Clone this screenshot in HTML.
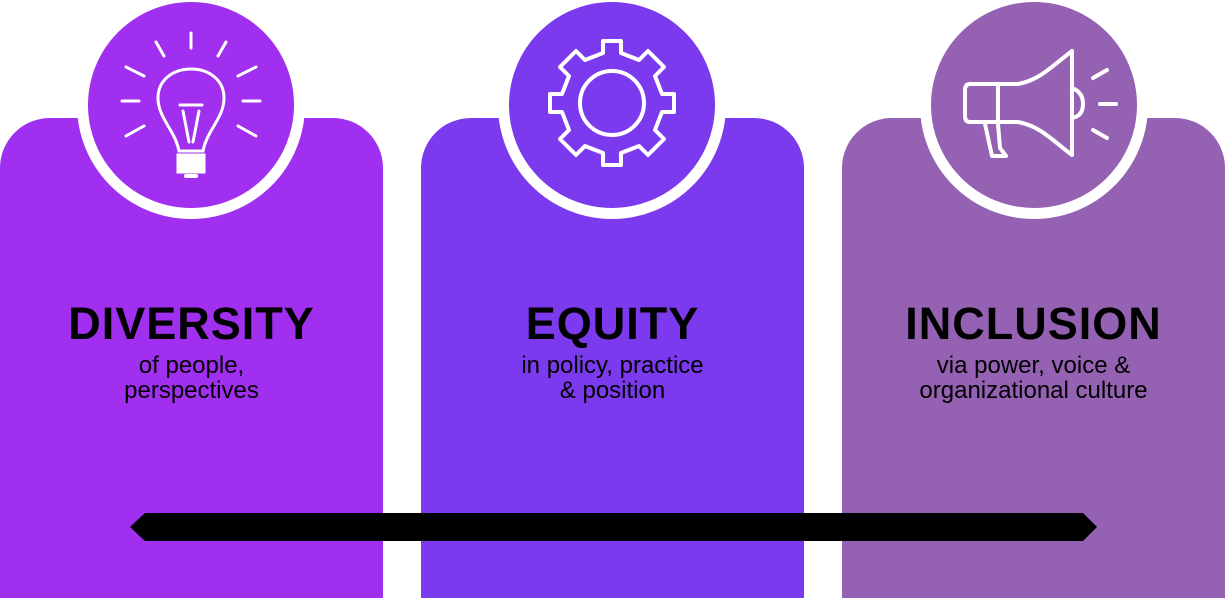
<!DOCTYPE html>
<html><head><style>
body{margin:0;width:1225px;height:598px;background:#fff;position:relative;overflow:hidden;font-family:"Liberation Sans",sans-serif}
.box{position:absolute;top:118px;width:383px;height:480px;border-radius:50px 50px 0 0}
.c{position:absolute;border-radius:50%;border:11px solid #fff;width:206px;height:206px}
.t{position:absolute;width:383px;text-align:center;color:#000}
.h{font-weight:bold;font-size:45px;top:298px;letter-spacing:1px}
.s{font-size:24px;top:353px;line-height:25px}
</style></head><body>
<div class="box" style="left:0;background:#a02ff0"></div>
<div class="box" style="left:421px;background:#7b3aed"></div>
<div class="box" style="left:842px;background:#9461b3"></div>
<div class="c" style="left:77px;top:-9px;background:#a02ff0"></div>
<div class="c" style="left:498px;top:-9px;background:#7b3aed"></div>
<div class="c" style="left:920px;top:-9px;background:#9461b3"></div>
<svg width="1225" height="598" style="position:absolute;left:0;top:0" fill="none" stroke="#fff" stroke-width="3" stroke-linecap="round">
<g transform="translate(191,0)">
<path d="M0 33V48M-35 42L-27 56M35 42L27 56M-65 67L-47 76M65 67L47 76M-69 101H-52M69 101H52M-65 136L-47 126M65 136L47 126"/>
<path d="M-12 151C-16 130 -33 118 -33 98C-33 80 -18 69 0 69C18 69 33 80 33 98C33 118 16 130 12 151Z"/>
<path d="M-11 105H11M-8 111L-2 142M8 111L2 142"/>
<path d="M-13 155H13V172H-13Z" fill="#fff"/><path d="M-5 176H5" stroke-width="4"/>
</g>
<g transform="translate(612,103)" stroke-width="4">
<circle r="32"/>
<path d="M-9 -62L-9 -50 -27 -43 -36 -52 -52 -36 -43 -27 -50 -9 -62 -9 -62 9 -50 9 -43 27 -52 36 -36 52 -27 43 -9 50 -9 62 9 62 9 50 27 43 36 52 52 36 43 27 50 9 62 9 62 -9 50 -9 43 -27 52 -36 36 -52 27 -43 9 -50 9 -62Z" stroke-linejoin="round"/>
</g>
<g transform="translate(820,0)" stroke-width="4" stroke-linejoin="round">
<path d="M150 84H198C220 80 232 66 252 51V155C232 140 220 126 198 122H150Q145 122 145 116V90Q145 84 150 84Z"/>
<path d="M178 84V122M252 88Q263 92 263 104Q263 116 252 118M165 124L172 156H186L180 148L178 124"/>
<path d="M273 78L287 70M280 104H296M273 130L287 138"/>
</g>
<path d="M130 527L145 513H1083L1097 527L1083 541H145Z" fill="#000" stroke="none"/>
</svg>
<div class="t h" style="left:0">DIVERSITY</div>
<div class="t s" style="left:0">of people,<br>perspectives</div>
<div class="t h" style="left:421px">EQUITY</div>
<div class="t s" style="left:421px">in policy, practice<br>&amp; position</div>
<div class="t h" style="left:842px">INCLUSION</div>
<div class="t s" style="left:842px">via power, voice &amp;<br>organizational culture</div>
</body></html>
